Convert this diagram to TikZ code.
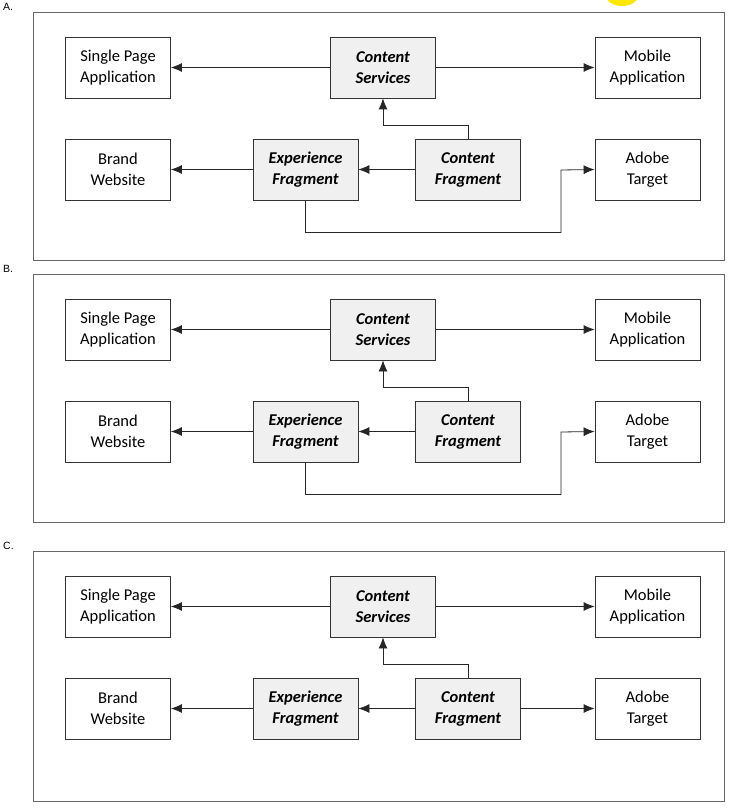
\documentclass[tikz,border=0pt]{standalone}
\usepackage{fontspec}
\setmainfont{Carlito}
\newfontfamily\lab{Liberation Sans}
\usetikzlibrary{arrows.meta}
\begin{document}
\begin{tikzpicture}[x=1pt,y=-1pt,
  bx/.style={draw=black!80,line width=0.8pt,minimum width=105pt,minimum height=61pt,align=center,font=\fontsize{16.5}{21}\selectfont,inner sep=1pt},
  gbx/.style={bx,fill=black!6,font=\fontsize{16.5}{21}\selectfont\bfseries\itshape},
  panel/.style={draw=black!60,line width=0.8pt},
  ar/.style={-{Latex[length=11pt,width=9pt]},line width=0.8pt,black!85}]
\useasboundingbox (0,0) rectangle (731,810);
\begin{scope}
\clip (0,0) rectangle (731,810);
\fill[yellow!90!orange] (622,-4) ellipse (16 and 10);
\end{scope}
\foreach \p/\oy/\h/\L in {A/0/248/A., B/262/248/B., C/539/250/C.}{
  \node[font=\lab\fontsize{10.5}{12}\selectfont,anchor=north west,inner sep=0pt] (lab\p) at (3,\oy+3) {\L};
  \draw[panel] (33,\oy+12) rectangle (724,\oy+12+\h);
  \node[bx] (spa\p) at (118,\oy+67.5) {Single Page\\Application};
  \node[gbx] (cs\p) at (383,\oy+67.5) {Content\\Services};
  \node[bx] (mob\p) at (647.5,\oy+67.5) {Mobile\\Application};
  \node[bx] (bw\p) at (118,\oy+169.5) {Brand\\Website};
  \node[gbx] (ef\p) at (305.5,\oy+169.5) {Experience\\Fragment};
  \node[gbx] (cf\p) at (468,\oy+169.5) {Content\\Fragment};
  \node[bx] (at\p) at (647.5,\oy+169.5) {Adobe\\Target};
  \draw[ar] (cs\p) -- (spa\p);
  \draw[ar] (cs\p) -- (mob\p);
  \draw[ar] (cf\p.north) -- ++(0,-13) -| (cs\p.south);
  \draw[ar] (cf\p) -- (ef\p);
  \draw[ar] (ef\p) -- (bw\p);
}
\draw[ar] (efA.south) -- ++(0,32) -| (561,170) -- (atA.west);
\draw[ar] (efB.south) -- ++(0,32) -| (561,432) -- (atB.west);
\draw[ar] (cfC) -- (atC);
\end{tikzpicture}
\end{document}
